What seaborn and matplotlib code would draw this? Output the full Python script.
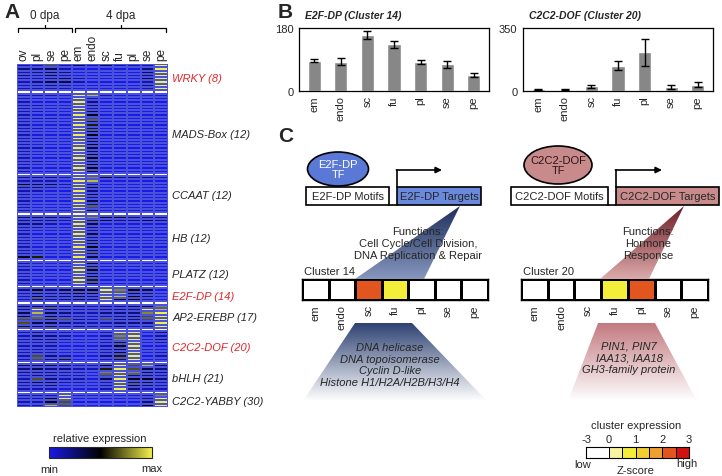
import numpy as np
import matplotlib
matplotlib.use('Agg')
import matplotlib.pyplot as plt
import seaborn as sns
from matplotlib.colors import LinearSegmentedColormap, ListedColormap
from matplotlib.patches import Ellipse, Rectangle, Polygon

#### Dati pannello A: heatmap (scala 0..9, blu -> nero -> giallo)
col_labels = ['ov', 'pl', 'se', 'pe', 'em', 'endo', 'sc', 'fu', 'pl', 'se', 'pe']

wrky_rows = ['11613131119', '22310000029', '12320000039', '21310000029',
             '11231000039', '12331000019', '11210000029', '11110000019']
mads_rows = ['11109810000', '10009100000', '10009200000', '11009200000',
             '10009100000', '11009300000', '10009400000', '11109600000',
             '10009500000', '10009500000', '11009500000', '10009400000',
             '10009400000', '11009300000', '10009300000', '10009400000',
             '11009300000', '10009300000', '10009400000', '10009400000',
             '11009300000', '10009400000', '10009400000', '10009400000']
ccaat_rows = ['22219742221', '11109800000', '43319200000', '22109300000',
              '11009200000', '10009300000', '10009200000', '10009300000',
              '10009500000', '10009600000', '10009300000']
hb_rows = ['33329744222', '22219532232', '22109300000', '11009200000',
           '10009200000', '10009300000', '10009200000', '10009300000',
           '10009300000', '10009400000', '11009300000', '10009500000',
           '45009300000']
platz_rows = ['10009400000', '10009500000', '10009400000', '10009300000',
              '10009400000', '10009500000', '10009400000']
e2f_rows = ['24234497430', '13234498320', '14223298420', '15223294410']
ap2_rows = ['33522122337', '29321122298', '38321122279', '47421112369',
            '66562162269', '63321112229', '52512112119']
dof_rows = ['12110019902', '12210017901', '12210017902', '11200015901',
            '11100014900', '11100013900', '11100014901', '16210025901',
            '16250015900']
bhlh_rows = ['33321149683', '23221159632', '22211079732', '12211069521',
             '16211039442', '23311019531', '11200019421', '11100019211']
yabby_rows = ['11190000017', '11490000029', '11460000029', '11860000049']

cluster_names = ['WRKY (8)', 'MADS-Box (12)', 'CCAAT (12)', 'HB (12)', 'PLATZ (12)',
                 'E2F-DP (14)', 'AP2-EREBP (17)', 'C2C2-DOF (20)', 'bHLH (21)',
                 'C2C2-YABBY (30)']
cluster_rows = [wrky_rows, mads_rows, ccaat_rows, hb_rows, platz_rows,
                e2f_rows, ap2_rows, dof_rows, bhlh_rows, yabby_rows]
red_clusters = ['WRKY (8)', 'E2F-DP (14)', 'C2C2-DOF (20)']

#### Dati pannello B
tissues = ['em', 'endo', 'sc', 'fu', 'pl', 'se', 'pe']
e2f_mean = [87, 84, 160, 133, 84, 76, 46]
e2f_err = [4, 11, 11, 11, 6, 9, 6]
dof_mean = [9, 8, 27, 141, 214, 22, 35]
dof_err = [3, 3, 8, 23, 73, 9, 15]

#### Dati pannello C (z-score per cluster)
e2f_z = [-1.2, -1.0, 2.3, 0.8, -0.9, -1.1, -1.4]
dof_z = [-1.5, -1.4, -0.6, 0.8, 2.3, -1.0, -0.8]
z_bounds = [-3, 0, 0.5, 1, 1.5, 2, 2.5, 3]
z_ticks = [-3, 0, 1, 2, 3]
z_colors = ['#ffffff', '#f7f3a0', '#f2ee3a', '#f2cd30', '#eca032', '#e2551e', '#d21212']

sns.set_style('white')
plt.rcParams['font.family'] = ['Liberation Sans', 'DejaVu Sans']

W, H = 722, 477
fig = plt.figure(figsize=(W / 100, H / 100), dpi=100)


def px_axes(x0, y0, x1, y1):
    # assi posizionati in pixel (origine in alto a sinistra)
    return fig.add_axes([x0 / W, 1 - y1 / H, (x1 - x0) / W, (y1 - y0) / H])


# ---- Pannello A
blocks, centers, off = [], [], 0
for i, rows in enumerate(cluster_rows):
    arr = np.array([[int(c) for c in r] for r in rows], dtype=float)
    blocks.append(arr)
    centers.append(off + len(rows) / 2)
    off += len(rows)
    if i < len(cluster_rows) - 1:
        blocks.append(np.full((1, len(col_labels)), np.nan))
        off += 1
mat = np.vstack(blocks)

hm_cmap = LinearSegmentedColormap.from_list('bky', ['#1a1ae6', '#000000', '#f2f04a'])
ax_a = px_axes(17, 65, 168, 408)
sns.heatmap(mat, cmap=hm_cmap, vmin=0, vmax=9, cbar=False, linewidths=0.2,
            linecolor='#4a52dc', ax=ax_a, xticklabels=col_labels)
ax_a.xaxis.tick_top()
ax_a.set_xticklabels(col_labels, rotation=90, fontsize=8.5)
ax_a.yaxis.tick_right()
ax_a.set_yticks(centers)
ax_a.set_yticklabels(cluster_names, rotation=0, fontsize=8, fontstyle='italic')
for lbl in ax_a.get_yticklabels():
    if lbl.get_text() in red_clusters:
        lbl.set_color('#e3262b')
ax_a.tick_params(length=0, pad=3)

cax = px_axes(49, 448, 152, 459)
cb = fig.colorbar(ax_a.collections[0], cax=cax, orientation='horizontal')
cb.set_ticks([])
cb.outline.set_linewidth(0.8)

# ---- Pannello B
def bar_panel(box, means, errs, ymax, title):
    ax = px_axes(*box)
    sns.barplot(x=tissues, y=means, color='#878787', saturation=1, width=0.5,
                errorbar=None, ax=ax)
    ax.errorbar(range(len(tissues)), means, yerr=errs, fmt='none', ecolor='black',
                elinewidth=1, capsize=3, capthick=1)
    ax.set_ylim(0, ymax)
    ax.set_yticks([0, ymax])
    ax.set_xlabel('')
    ax.set_ylabel('')
    ax.tick_params(axis='x', rotation=90, labelsize=8, length=0, pad=3)
    ax.tick_params(axis='y', labelsize=8, length=0, pad=4)
    for s in ax.spines.values():
        s.set_color('black')
        s.set_linewidth(0.9)
    ax.text(0.03, 1.12, title, transform=ax.transAxes, fontsize=7.5,
            fontweight='bold', fontstyle='italic', va='bottom')
    return ax

bar_panel((299, 29, 489, 92), e2f_mean, e2f_err, 180, 'E2F-DP (Cluster 14)')
bar_panel((523, 29, 713, 92), dof_mean, dof_err, 350, 'C2C2-DOF (Cluster 20)')

# ---- Pannello C: strisce dei cluster
z_cmap = ListedColormap(z_colors)

def cluster_strip(box, zvals):
    ax = px_axes(*box)
    idx = np.digitize(zvals, z_bounds[1:-1])
    sns.heatmap(np.array([idx]), cmap=z_cmap, vmin=-0.5, vmax=len(z_colors) - 0.5,
                cbar=False, linewidths=1, linecolor='black', ax=ax,
                xticklabels=tissues, yticklabels=False)
    ax.tick_params(axis='x', rotation=90, labelsize=8, length=0, pad=3)
    for s in ax.spines.values():
        s.set_visible(True)
        s.set_color('black')
        s.set_linewidth(1)
    return ax

cluster_strip((302, 280, 488, 301), e2f_z)
cluster_strip((521, 280, 708, 301), dof_z)


def zpos(z):
    # il bianco (-3..0) e' piu' largo dei gradini positivi
    return 23 * (z + 3) / 3 if z <= 0 else 23 + 80 * z / 3

ax_z = px_axes(586, 448, 689, 459)
ax_z.pcolormesh([zpos(b) for b in z_bounds], [0, 1], [np.arange(len(z_colors))],
                cmap=z_cmap, vmin=-0.5, vmax=len(z_colors) - 0.5,
                edgecolors='black', linewidth=0.6)
ax_z.set_xlim(0, zpos(3))
ax_z.set_ylim(0, 1)
ax_z.xaxis.tick_top()
ax_z.set_xticks([zpos(t) for t in z_ticks])
ax_z.set_xticklabels([str(t) for t in z_ticks], fontsize=8)
ax_z.set_yticks([])
ax_z.tick_params(length=0, pad=2)
for s in ax_z.spines.values():
    s.set_color('black')
    s.set_linewidth(0.8)

# ---- Overlay per testi e schema
ov = fig.add_axes([0, 0, 1, 1])
ov.axis('off')
ov.patch.set_visible(False)


def grad_poly(verts, c_top, c_bot):
    xs = [v[0] for v in verts]
    ys = [v[1] for v in verts]
    cm = LinearSegmentedColormap.from_list('g', [c_top, c_bot])
    im = ov.imshow(np.linspace(0, 1, 128).reshape(-1, 1), cmap=cm, aspect='auto',
                   extent=(min(xs), max(xs), max(ys), min(ys)), origin='upper', zorder=1)
    im.set_clip_path(Polygon(verts, closed=True, transform=ov.transData))


grad_poly([(460, 207), (355, 280), (424, 280)], '#1e2f5c', '#8797bf')
grad_poly([(355, 324), (412, 324), (487, 402), (303, 402)], '#2e4273', '#ffffff')
grad_poly([(684, 207), (600, 280), (649, 280)], '#6e1e28', '#dcaaaa')
grad_poly([(598, 324), (655, 324), (697, 402), (568, 402)], '#c27a80', '#ffffff')

# etichette dei pannelli
ov.text(4, 12, 'A', fontsize=15, fontweight='bold', va='center')
ov.text(278, 12, 'B', fontsize=15, fontweight='bold', va='center')
ov.text(278, 137, 'C', fontsize=15, fontweight='bold', va='center')

# parentesi 0 dpa / 4 dpa
for x0, x1, lab in [(18, 72, '0 dpa'), (75, 166, '4 dpa')]:
    xm = (x0 + x1) / 2
    ov.plot([x0, x0, x1, x1], [33, 29, 29, 33], color='black', lw=0.9)
    ov.plot([xm, xm], [29, 26], color='black', lw=0.9)
    ov.text(xm, 16, lab, ha='center', va='center', fontsize=8.5)

ov.text(100, 439, 'relative expression', ha='center', va='center', fontsize=8)
ov.text(49, 470, 'min', ha='center', va='center', fontsize=8)
ov.text(152, 469, 'max', ha='center', va='center', fontsize=8)

# schema TF -> motivi -> target
for (ex, ey, ew, eh, efc, etc, tf, mbox, tbox, tfc, arr_x) in [
        (338, 170, 61, 34, '#5a78d6', 'white', 'E2F-DP',
         (306, 188, 389, 206), (397, 188, 481, 206), '#6a89dc', 442),
        (558, 166, 68, 38, '#c98a8c', '#2a1515', 'C2C2-DOF',
         (511, 188, 608, 206), (616, 188, 719, 206), '#c98a8c', 662)]:
    ov.add_patch(Ellipse((ex, ey), ew, eh, facecolor=efc, edgecolor='black', lw=1.2, zorder=3))
    ov.text(ex, ey, tf + '\nTF', ha='center', va='center', fontsize=8, color=etc,
            linespacing=1.1, zorder=4)
    mx0, my0, mx1, my1 = mbox
    ov.add_patch(Rectangle((mx0, my0), mx1 - mx0, my1 - my0, facecolor='white',
                           edgecolor='black', lw=1.2, zorder=3))
    ov.text((mx0 + mx1) / 2, (my0 + my1) / 2, tf + ' Motifs', ha='center', va='center',
            fontsize=8, zorder=4)
    tx0, ty0, tx1, ty1 = tbox
    ov.add_patch(Rectangle((tx0, ty0), tx1 - tx0, ty1 - ty0, facecolor=tfc,
                           edgecolor='black', lw=1.2, zorder=3))
    ov.text((tx0 + tx1) / 2, (ty0 + ty1) / 2, tf + ' Targets', ha='center', va='center',
            fontsize=8, zorder=4)
    ov.plot([mx1, tx0], [my1, ty1], color='black', lw=1.2, zorder=3)
    ov.plot([tx0, tx0], [ty0, 171], color='black', lw=1.2, zorder=3)
    ov.annotate('', xy=(arr_x, 171), xytext=(tx0 - 0.6, 171),
                arrowprops=dict(arrowstyle='-|>', color='black', lw=1.2,
                                mutation_scale=9, shrinkA=0, shrinkB=0), zorder=3)

ov.text(418, 244, 'Functions:\nCell Cycle/Cell Division,\nDNA Replication & Repair',
        ha='center', va='center', fontsize=8, linespacing=1.2, zorder=5)
ov.text(648, 244, 'Functions:\nHormone\nResponse',
        ha='center', va='center', fontsize=8, linespacing=1.2, zorder=5)
ov.text(304, 272, 'Cluster 14', ha='left', va='center', fontsize=8)
ov.text(523, 272, 'Cluster 20', ha='left', va='center', fontsize=8)

ov.text(390, 365.5, 'DNA helicase\nDNA topoisomerase\nCyclin D-like\nHistone H1/H2A/H2B/H3/H4',
        ha='center', va='center', fontsize=8, fontstyle='italic', linespacing=1.2, zorder=5)
ov.text(629, 358.5, 'PIN1, PIN7\nIAA13, IAA18\nGH3-family protein',
        ha='center', va='center', fontsize=8, fontstyle='italic', linespacing=1.2, zorder=5)

ov.text(636, 426, 'cluster expression', ha='center', va='center', fontsize=8)
ov.text(583, 465, 'low', ha='center', va='center', fontsize=8)
ov.text(687, 464, 'high', ha='center', va='center', fontsize=8)
ov.text(636, 471, 'Z-score', ha='center', va='center', fontsize=8)

ov.set_xlim(0, W)
ov.set_ylim(H, 0)

fig.savefig('out.png', dpi=100)
